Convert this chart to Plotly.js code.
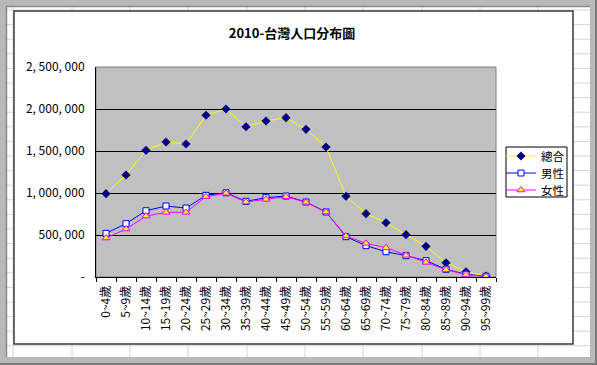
<!DOCTYPE html>
<html>
<head>
<meta charset="utf-8">
<script src="https://cdn.plot.ly/plotly-3.0.1.min.js"></script>
<style>html,body{margin:0;padding:0;background:#fff;}#chart{width:597px;height:365px;}</style>
</head>
<body>
<div id="chart"></div>
<script>
const categories = ["0~4歲","5~9歲","10~14歲","15~19歲","20~24歲","25~29歲","30~34歲","35~39歲","40~44歲","45~49歲","50~54歲","55~59歲","60~64歲","65~69歲","70~74歲","75~79歲","80~84歲","85~89歲","90~94歲","95~99歲"];
const totalValues = [992000,1214000,1508000,1607000,1583000,1925000,2000000,1789000,1857000,1897000,1758000,1548000,961000,754000,646000,504000,365000,170000,63000,10000];
const maleValues = [520000,635000,789000,845000,821000,972000,1003000,901000,944000,964000,893000,774000,480000,373000,301000,254000,194000,92000,32000,8000];
const femaleValues = [464000,571000,726000,770000,770000,956000,997000,893000,925000,956000,889000,774000,488000,401000,349000,258000,175000,87000,27000,6000];
const seriesNames = ["總合","男性","女性"];
const yTickVals = [0,500000,1000000,1500000,2000000,2500000];
const yTickText = ["-","500, 000","1, 000, 000","1, 500, 000","2, 000, 000","2, 500, 000"];

// plot area in pixels
const PL = 96, PR = 496, PT = 67, PB = 277;
const fx = p => (p - PL) / (PR - PL);
const fy = p => (PB - p) / (PB - PT);

const shapes = [];
function rect(x0,y0,x1,y1,fill,line,lw){
  shapes.push({type:'rect',xref:'paper',yref:'paper',layer:'below',
    x0:fx(x0),x1:fx(x1),y0:fy(y0),y1:fy(y1),
    fillcolor:fill,line:{color:line||'rgba(0,0,0,0)',width:lw||0}});
}
function line(x0,y0,x1,y1,color,w){
  shapes.push({type:'line',xref:'paper',yref:'paper',layer:'below',
    x0:fx(x0),x1:fx(x1),y0:fy(y0),y1:fy(y1),line:{color:color,width:w||1}});
}
// spreadsheet grid lines
const gridCol = '#D4D4D4';
[13,72,130,188,247,305,363,422,480,538].forEach(x=>line(x,7,x,357,gridCol,1));
for (let y=10; y<357; y+=14.6) line(7,y,590,y,gridCol,1);
// outer gray frame
rect(0,0,597,6,'#B9B9B9');
rect(0,0,6,365,'#B9B9B9');
rect(590,0,597,365,'#B9B9B9');
rect(0,357,597,365,'#B9B9B9');
line(6,6.5,590,6.5,'#8A8A8A',1.5);
line(6.5,6,6.5,357,'#8A8A8A',1.5);
line(0,364,597,364,'#7A7A7A',2);
line(596,0,596,365,'#7A7A7A',2);
// chart area
rect(14,11,573,344,'#FFFFFF','#3A3A3A',1.5);
// plot area
rect(PL,PT,PR,PB,'#C0C0C0','#808080',1);
// legend box
rect(506,147,567,197,'#FFFFFF','#000000',1);

const traces = [
  {x:categories,y:totalValues,name:seriesNames[0],type:'scatter',mode:'lines+markers',legend:'legend',
   line:{color:'#FFFF00',width:1},
   marker:{symbol:'diamond',size:7,color:'#000080',line:{color:'#000080',width:0}}},
  {x:categories,y:maleValues,name:seriesNames[1],type:'scatter',mode:'lines+markers',legend:'legend2',
   line:{color:'#0000FF',width:1},
   marker:{symbol:'square',size:6,color:'#FFFFFF',line:{color:'#0000FF',width:1}}},
  {x:categories,y:femaleValues,name:seriesNames[2],type:'scatter',mode:'lines+markers',legend:'legend3',
   line:{color:'#FF00FF',width:1},
   marker:{symbol:'triangle-up',size:7,color:'#FFFF00',line:{color:'#FF00FF',width:1}}}
];

const fontFam = '"Noto Sans CJK JP", "Noto Sans CJK TC", sans-serif';
function leg(ypx){
  return {x:fx(501),y:fy(ypx),xanchor:'left',yanchor:'middle',
          bgcolor:'rgba(0,0,0,0)',borderwidth:0,
          font:{family:fontFam,size:11.5,color:'#000'},itemwidth:30,tracegroupgap:0};
}
const layout = {
  width:597,height:365,
  margin:{l:PL,r:597-PR,t:PT,b:365-PB,pad:0},
  paper_bgcolor:'#FFFFFF',
  plot_bgcolor:'rgba(0,0,0,0)',
  font:{family:fontFam,color:'#000000',size:11},
  title:{text:'<b>2010-台灣人口分布圖</b>',x:292/597,xref:'container',xanchor:'center',
         y:1-33/365,yref:'container',yanchor:'middle',font:{family:fontFam,size:13,color:'#000'}},
  showlegend:true,
  legend:leg(156),
  legend2:leg(173),
  legend3:leg(190),
  xaxis:{type:'category',range:[-0.5,19.5],showline:true,linecolor:'#000',linewidth:1,
         ticks:'outside',tickson:'boundaries',ticklen:4,tickcolor:'#000',tickwidth:1,
         ticklabelstandoff:3,
         tickangle:-90,tickfont:{family:fontFam,size:12,color:'#000'},showgrid:false,
         fixedrange:true,automargin:false},
  yaxis:{range:[0,2500000],tickvals:yTickVals,ticktext:yTickText,showline:true,linecolor:'#000',linewidth:1,
         ticks:'',ticklabelstandoff:8,showgrid:true,gridcolor:'#000000',gridwidth:1,zeroline:false,
         tickfont:{family:fontFam,size:12,color:'#000'},fixedrange:true,automargin:false},
  shapes:shapes
};
Plotly.newPlot('chart',traces,layout,{displayModeBar:false,staticPlot:true});
</script>
</body>
</html>
